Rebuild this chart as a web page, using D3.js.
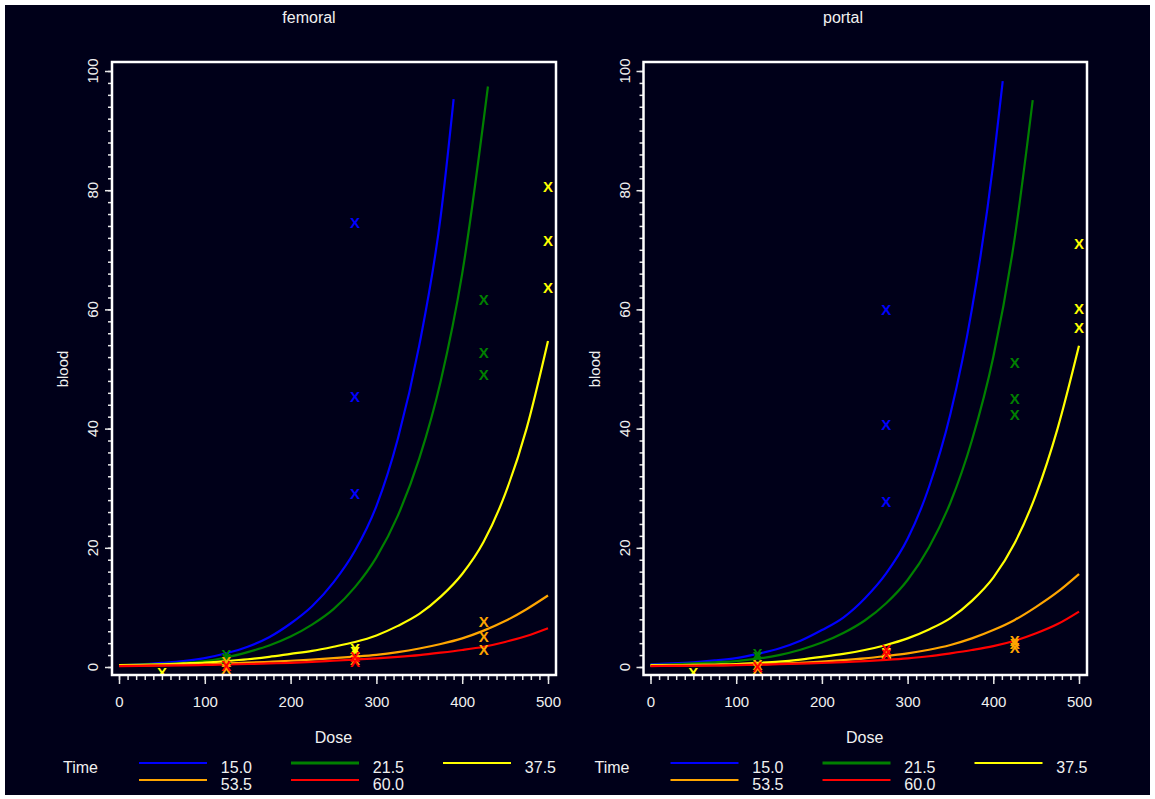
<!DOCTYPE html>
<html>
<head>
<meta charset="utf-8">
<script src="https://cdn.jsdelivr.net/npm/d3@7"></script>
<style>
  body { margin: 0; background: #ffffff; }
  svg { display: block; }
  text { font-family: "Liberation Sans", Arial, sans-serif; fill: #f0f0f0; }
</style>
</head>
<body>
<div id="chart"></div>
<script>
// ---- data ----
const doseTicks = [0, 100, 200, 300, 400, 500];
const bloodTicks = [0, 20, 40, 60, 80, 100];
const times = ["15.0", "21.5", "37.5", "53.5", "60.0"];
const timeColors = ["#0000ff", "#008000", "#ffff00", "#ffa500", "#ff0000"];

// fitted curves, [dose, blood], read every 25 units of dose
const femoral15 = [[0,0.3],[25,0.45],[50,0.7],[75,1.0],[100,1.5],[125,2.3],[150,3.4],[175,5.0],[200,7.3],[225,10.2],[250,14.2],[275,19.5],[300,27],[325,38.3],[350,54],[375,75.7],[390,95.3]];
const femoral21 = [[0,0.3],[25,0.4],[50,0.5],[75,0.7],[100,1.0],[125,1.6],[150,2.5],[175,3.6],[200,5.1],[225,7.1],[250,9.7],[275,13.4],[300,18.4],[325,25.4],[350,35],[375,48],[400,66],[430,97.4]];
const femoral37 = [[0,0.3],[25,0.35],[50,0.45],[75,0.6],[100,0.75],[125,1.0],[150,1.3],[175,1.7],[200,2.2],[225,2.7],[250,3.4],[275,4.2],[300,5.3],[325,6.9],[350,8.9],[375,11.8],[400,15.6],[425,21],[450,29],[475,40],[500,54.7]];
const femoral53 = [[0,0.2],[25,0.25],[50,0.3],[75,0.38],[100,0.45],[125,0.6],[150,0.72],[175,0.88],[200,1.05],[225,1.25],[250,1.5],[275,1.75],[300,2.05],[325,2.5],[350,3.1],[375,3.85],[400,4.8],[425,6.1],[450,7.7],[475,9.7],[500,12.0]];
const femoral60 = [[0,0.15],[25,0.2],[50,0.23],[75,0.28],[100,0.35],[125,0.42],[150,0.5],[175,0.6],[200,0.7],[225,0.85],[250,1.05],[275,1.25],[300,1.45],[325,1.7],[350,2.0],[375,2.4],[400,2.85],[425,3.4],[450,4.2],[475,5.2],[500,6.5]];

const portal15 = [[0,0.45],[25,0.6],[50,0.8],[75,1.1],[100,1.5],[125,2.2],[150,3.1],[175,4.4],[200,6.2],[225,8.3],[250,11.5],[275,15.7],[300,21.5],[325,30.2],[350,42.5],[375,60],[400,84.5],[411,98.3]];
const portal21 = [[0,0.35],[25,0.45],[50,0.6],[75,0.8],[100,1.0],[125,1.4],[150,2.0],[175,2.9],[200,4.1],[225,5.7],[250,7.8],[275,10.7],[300,14.6],[325,20.1],[350,27.6],[375,38],[400,52],[425,72],[446,95.1]];
const portal37 = [[0,0.3],[25,0.32],[50,0.35],[75,0.42],[100,0.5],[125,0.68],[150,0.9],[175,1.25],[200,1.7],[225,2.2],[250,2.85],[275,3.7],[300,4.8],[325,6.3],[350,8.2],[375,11.1],[400,15.0],[425,20.8],[450,29],[475,40],[500,53.9]];
const portal53 = [[0,0.2],[25,0.24],[50,0.28],[75,0.31],[100,0.35],[125,0.45],[150,0.55],[175,0.7],[200,0.9],[225,1.15],[250,1.45],[275,1.85],[300,2.3],[325,2.9],[350,3.7],[375,4.8],[400,6.2],[425,7.9],[450,10.1],[475,12.6],[500,15.6]];
const portal60 = [[0,0.15],[25,0.18],[50,0.21],[75,0.25],[100,0.3],[125,0.38],[150,0.47],[175,0.57],[200,0.67],[225,0.82],[250,1.0],[275,1.2],[300,1.45],[325,1.8],[350,2.3],[375,2.85],[400,3.5],[425,4.4],[450,5.65],[475,7.2],[500,9.3]];

// observations, [dose, blood] per time
const femoralObs15 = [[275,74.5],[275,45.4],[275,29.1]];
const femoralObs21 = [[425,61.7],[425,52.7],[425,49.0],[125,2.0],[125,1.4]];
const femoralObs37 = [[500,80.6],[500,71.6],[500,63.6],[275,3.1],[275,2.6],[50,-0.9]];
const femoralObs53 = [[425,7.6],[425,5.1],[425,2.85],[125,0.9],[125,-0.2],[275,1.3]];
const femoralObs60 = [[275,1.7],[275,0.9],[125,0.2]];

const portalObs15 = [[275,60],[275,40.7],[275,27.8]];
const portalObs21 = [[425,51],[425,45.1],[425,42.4],[125,1.7],[125,2.2]];
const portalObs37 = [[500,71],[500,60.1],[500,57],[275,2.5],[50,-0.9]];
const portalObs53 = [[425,4.4],[425,3.9],[425,3.3],[125,0.4],[125,-0.3],[275,2.3]];
const portalObs60 = [[275,2.9],[275,2.0],[125,0.1]];

const panels = [
    {title: "femoral", titleX: 309, left: 112, right: 556,
     curves: [femoral15, femoral21, femoral37, femoral53, femoral60],
     obs: [femoralObs15, femoralObs21, femoralObs37, femoralObs53, femoralObs60]},
    {title: "portal", titleX: 843, left: 643.5, right: 1087,
     curves: [portal15, portal21, portal37, portal53, portal60],
     obs: [portalObs15, portalObs21, portalObs37, portalObs53, portalObs60]}
];

// ---- layout ----
const width = 1155, height = 799;
const frameTop = 62, frameBottom = 675;
const textColor = "#f0f0f0";

const svg = d3.select("#chart").append("svg")
    .attr("width", width)
    .attr("height", height);

svg.append("rect")
    .attr("x", 5).attr("y", 5)
    .attr("width", 1145).attr("height", 790)
    .attr("fill", "#000019");

panels.forEach((p, pi) => {
    const x = d3.scaleLinear().domain([0, 500]).range([p.left + 7, p.right - 8]);
    const y = d3.scaleLinear().domain([0, 100]).range([667, 71]);
    const g = svg.append("g").attr("class", "panel");

    // clip to frame
    const clipId = "clip" + pi;
    svg.append("clipPath").attr("id", clipId)
        .append("rect")
        .attr("x", p.left).attr("y", frameTop)
        .attr("width", p.right - p.left).attr("height", frameBottom - frameTop);

    // title
    g.append("text")
        .attr("x", p.titleX)
        .attr("y", 23)
        .attr("text-anchor", "middle")
        .style("font-size", "16px")
        .text(p.title);

    // x axis: major + minor ticks
    const xMinor = d3.axisBottom(x).tickValues(d3.range(0, 501, 10)).tickSize(5).tickFormat("");
    const xMajor = d3.axisBottom(x).tickValues(doseTicks).tickSize(9).tickPadding(12).tickFormat(d3.format("d"));
    g.append("g").attr("transform", `translate(0,${frameBottom})`).call(xMinor);
    g.append("g").attr("transform", `translate(0,${frameBottom})`).call(xMajor);

    // y axis: major + minor ticks
    const yMinor = d3.axisLeft(y).tickValues(d3.range(0, 101, 2)).tickSize(4).tickFormat("");
    const yMajor = d3.axisLeft(y).tickValues(bloodTicks).tickSize(7).tickFormat("");
    g.append("g").attr("transform", `translate(${p.left},0)`).call(yMinor);
    g.append("g").attr("transform", `translate(${p.left},0)`).call(yMajor);

    // rotated y labels
    g.selectAll(".ylab").data(bloodTicks).enter()
        .append("text")
        .attr("class", "ylab")
        .attr("transform", d => `translate(${p.left - 14},${y(d)}) rotate(-90)`)
        .attr("text-anchor", "middle")
        .style("font-size", "15px")
        .text(d => d);

    g.selectAll(".domain").remove();
    g.selectAll(".tick line").attr("stroke", "#e8e8e8").attr("stroke-width", 1.5);
    g.selectAll(".tick text").attr("fill", textColor)
        .style("font-family", "'Liberation Sans', Arial, sans-serif")
        .style("font-size", "15px");

    // axis titles
    g.append("text")
        .attr("x", x(250)).attr("y", 743)
        .attr("text-anchor", "middle")
        .style("font-size", "16px")
        .text("Dose");
    g.append("text")
        .attr("transform", `translate(${p.left - 44},${y(50)}) rotate(-90)`)
        .attr("text-anchor", "middle")
        .style("font-size", "15px")
        .text("blood");

    // curves
    const line = d3.line()
        .x(d => x(d[0]))
        .y(d => y(d[1]))
        .curve(d3.curveMonotoneX);
    const plot = g.append("g").attr("clip-path", `url(#${clipId})`);
    plot.selectAll("path.fit").data(p.curves).enter()
        .append("path")
        .attr("class", "fit")
        .attr("d", line)
        .attr("fill", "none")
        .attr("stroke", (d, i) => timeColors[i])
        .attr("stroke-width", 2.2);

    // observations drawn as X characters
    p.obs.forEach((pts, i) => {
        plot.selectAll(null).data(pts).enter()
            .append("text")
            .attr("x", d => x(d[0]))
            .attr("y", d => y(d[1]))
            .attr("dy", "0.36em")
            .attr("text-anchor", "middle")
            .style("font-size", "15px")
            .style("font-weight", "bold")
            .style("fill", timeColors[i])
            .text("X");
    });

    // frame
    g.append("rect")
        .attr("x", p.left).attr("y", frameTop)
        .attr("width", p.right - p.left).attr("height", frameBottom - frameTop)
        .attr("fill", "none")
        .attr("stroke", "#ffffff")
        .attr("stroke-width", 2.5);

    // legend
    const x0 = x(0);
    const lg = g.append("g").attr("class", "legend");
    lg.append("text")
        .attr("x", x0 - 56).attr("y", 773)
        .style("font-size", "16px")
        .text("Time");
    times.forEach((t, i) => {
        const col = i % 3, row = Math.floor(i / 3);
        const lx = x0 + 20 + col * 152;
        const ly = 763 + row * 17;
        lg.append("line")
            .attr("x1", lx).attr("x2", lx + 68)
            .attr("y1", ly).attr("y2", ly)
            .attr("stroke", timeColors[i])
            .attr("stroke-width", i === 1 ? 3 : 2);
        lg.append("text")
            .attr("x", lx + 113).attr("y", ly + 10)
            .attr("text-anchor", "end")
            .style("font-size", "16px")
            .text(t);
    });
});
</script>
</body>
</html>
